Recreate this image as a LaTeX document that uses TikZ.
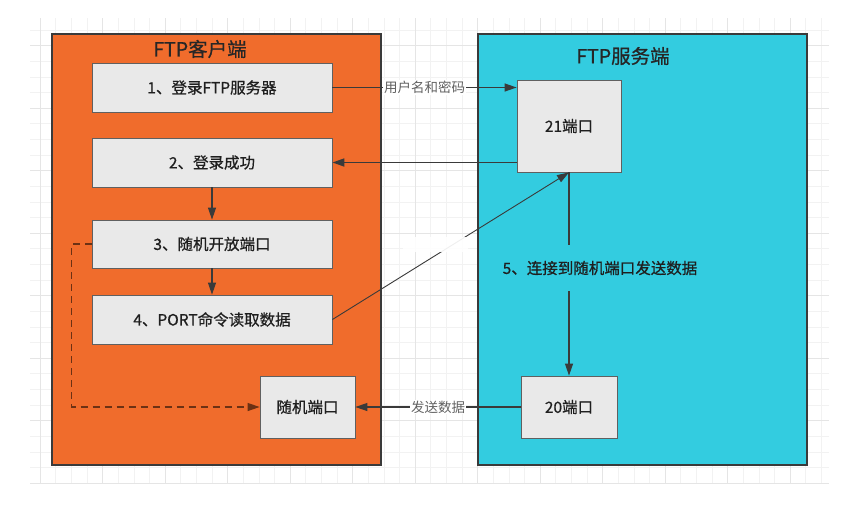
\documentclass[tikz,border=0pt]{standalone}
\usepackage{fontspec}
\setmainfont{Noto Sans CJK SC}
\newfontfamily\boxfont[FakeBold=0.7]{Noto Sans CJK SC}
\usetikzlibrary{arrows.meta}
\definecolor{orangebg}{HTML}{F06C2C}
\definecolor{cyanbg}{HTML}{33CCE0}
\definecolor{boxfill}{HTML}{E9E9E9}
\definecolor{edgecol}{HTML}{3A3A3A}
\tikzset{
  panel/.style={draw=edgecol, line width=1.3pt},
  stepbox/.style={draw=gray!75!black, fill=boxfill, line width=0.8pt, inner sep=0pt,
    font=\boxfont\fontsize{15.5}{16}\selectfont, text=black!88},
  ttl/.style={font=\boxfont\fontsize{19.5}{20}\selectfont, text=black!85, inner sep=0pt},
  arr/.style={-{Triangle[length=12pt,width=8pt]}, draw=edgecol, line width=1.1pt},
  lbl/.style={fill=white, inner sep=1pt, font=\fontsize{13.5}{14}\selectfont, text=black!62},
  gridminor/.style={draw=gray!10, line width=0.5pt},
  gridmajor/.style={draw=gray!20, line width=0.6pt},
}
\begin{document}
\begin{tikzpicture}[x=1pt, y=-1pt]
\useasboundingbox (0,0) rectangle (861,507);
\fill[white] (0,0) rectangle (861,507);
% grid
\foreach \xx in {40,55.625,...,830} \draw[gridminor] (\xx,18) -- (\xx,483);
\foreach \yy in {483,467.375,...,17} \draw[gridminor] (30,\yy) -- (829,\yy);
\foreach \xx in {40,102.5,...,830} \draw[gridmajor] (\xx,18) -- (\xx,483);
\foreach \yy in {483,420.5,...,17} \draw[gridmajor] (30,\yy) -- (829,\yy);
% panels
\draw[panel, fill=orangebg] (52,34) rectangle (381,465);
\draw[panel, fill=cyanbg] (478,34) rectangle (807,465);
\node[ttl] (tc) at (200,49) {FTP客户端};
\node[ttl] (ts) at (623,56) {FTP服务端};
% client boxes
\node[stepbox, minimum width=240pt, minimum height=49pt] (b1) at (212,87.5) {1、登录FTP服务器};
\node[stepbox, minimum width=240pt, minimum height=49pt] (b2) at (212,162.5) {2、登录成功};
\node[stepbox, minimum width=240pt, minimum height=48pt] (b3) at (212,244) {3、随机开放端口};
\node[stepbox, minimum width=240pt, minimum height=49pt] (b4) at (212,319.5) {4、PORT命令读取数据};
\node[stepbox, minimum width=95pt, minimum height=62pt] (rp) at (307.5,407) {随机端口};
% server boxes
\node[stepbox, minimum width=104pt, minimum height=92pt] (p21) at (569,126) {21端口};
\node[stepbox, minimum width=96pt, minimum height=62pt] (p20) at (569,407) {20端口};
% connectors
\draw[arr] (b1.east) -- node[lbl] (l1) {用户名和密码} (b1.east -| p21.west);
\draw[arr, line width=1.7pt] (b2.east -| p21.west) -- (b2.east);
\draw[arr] (b2.south) -- (b3.north);
\draw[arr] (b3.south) -- (b4.north);
\draw[arr, line width=0.9pt] (b4.east) -- (p21.south);
\node[fill=white, fill opacity=0.92, minimum width=65pt, minimum height=15pt, inner sep=0pt] (patch) at (435.5,244.5) {};
\draw[arr] (p21.south) -- (p20.north);
\node[fill=cyanbg, inner xsep=2pt, minimum height=46pt, font=\boxfont\fontsize{15.5}{16}\selectfont, text=black!88] (s5) at (600,268) {5、连接到随机端口发送数据};
\draw[arr] (p20.west) -- node[lbl] (l2) {发送数据} (rp.east);
\draw[arr, draw=black!55!orangebg, dash pattern=on 7pt off 5pt] (b3.west) -- ++(-20,0) |- (rp.west);
\end{tikzpicture}
\end{document}
